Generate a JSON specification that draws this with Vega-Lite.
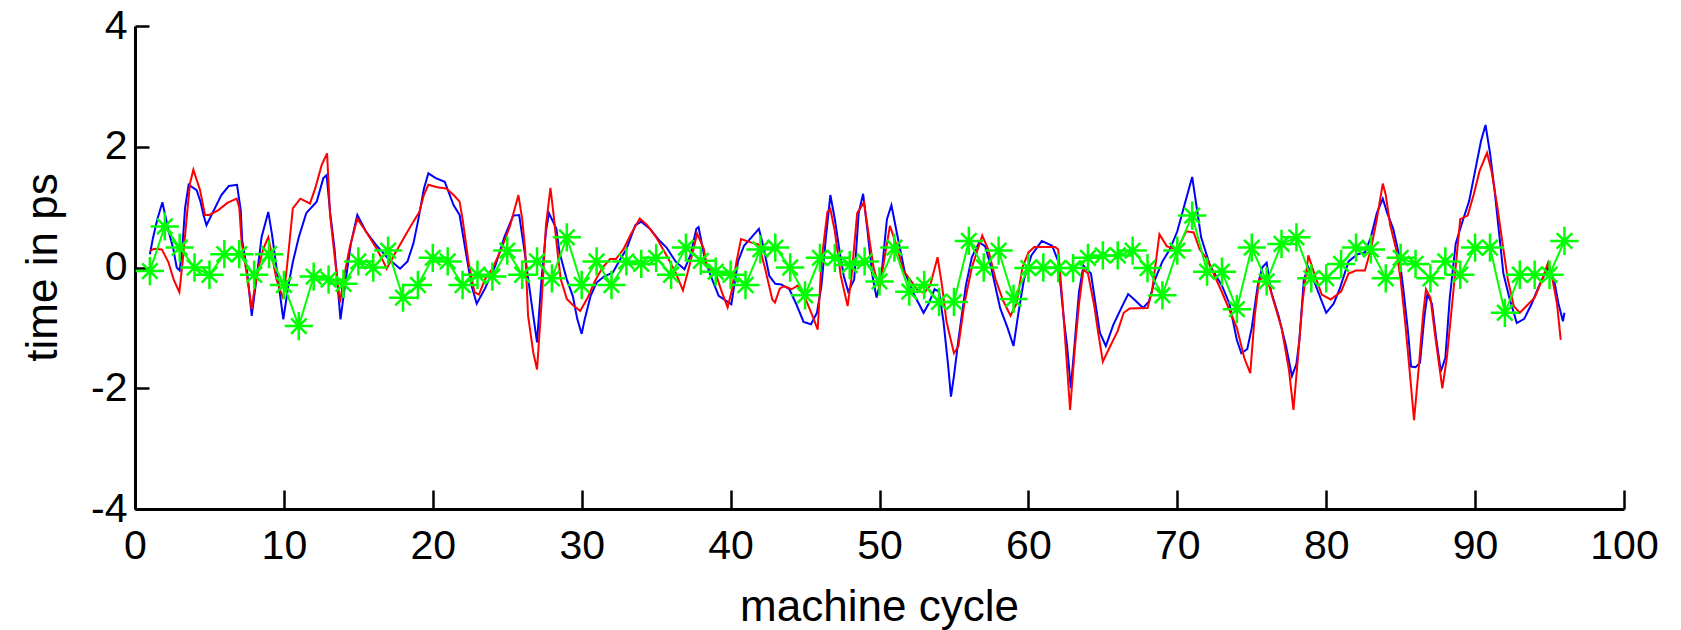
{
  "$schema": "https://vega.github.io/schema/vega-lite/v6.json",
  "autosize": {"type": "none"},
  "width": 1489,
  "height": 483,
  "padding": {"left": 135, "top": 26, "right": 57, "bottom": 121},
  "background": "white",
  "config": {"view": {"stroke": null}},
  "datasets": {
    "blue": [
      {"x":1.0,"y":0.22},{"x":1.2,"y":0.48},{"x":1.5,"y":0.8},{"x":1.84,"y":1.08},{"x":2.24,"y":0.62},{"x":2.57,"y":0.31},{"x":2.8,"y":0.0},{"x":3.0,"y":-0.05},{"x":3.2,"y":0.4},{"x":3.36,"y":0.98},{"x":3.6,"y":1.37},{"x":4.14,"y":1.28},{"x":4.4,"y":1.09},{"x":4.6,"y":0.87},{"x":4.8,"y":0.7},{"x":5.3,"y":0.95},{"x":5.8,"y":1.2},{"x":6.3,"y":1.35},{"x":6.85,"y":1.37},{"x":7.1,"y":0.95},{"x":7.2,"y":0.45},{"x":7.5,"y":0.0},{"x":7.84,"y":-0.8},{"x":8.1,"y":-0.3},{"x":8.5,"y":0.5},{"x":8.95,"y":0.92},{"x":9.2,"y":0.55},{"x":9.5,"y":0.0},{"x":9.96,"y":-0.86},{"x":10.3,"y":-0.3},{"x":10.6,"y":0.09},{"x":11.0,"y":0.5},{"x":11.5,"y":0.9},{"x":12.2,"y":1.09},{"x":12.65,"y":1.48},{"x":12.87,"y":1.53},{"x":13.1,"y":0.92},{"x":13.4,"y":0.31},{"x":13.8,"y":-0.86},{"x":14.1,"y":-0.3},{"x":14.5,"y":0.4},{"x":14.93,"y":0.87},{"x":15.5,"y":0.6},{"x":16.2,"y":0.37},{"x":17.0,"y":0.15},{"x":17.8,"y":-0.02},{"x":18.3,"y":0.1},{"x":18.7,"y":0.4},{"x":19.0,"y":0.76},{"x":19.4,"y":1.3},{"x":19.7,"y":1.56},{"x":20.2,"y":1.48},{"x":20.8,"y":1.42},{"x":21.4,"y":1.03},{"x":21.8,"y":0.87},{"x":22.2,"y":0.28},{"x":22.6,"y":-0.3},{"x":22.95,"y":-0.6},{"x":23.5,"y":-0.35},{"x":24.2,"y":0.03},{"x":24.8,"y":0.5},{"x":25.4,"y":0.86},{"x":25.8,"y":0.87},{"x":26.2,"y":0.2},{"x":26.5,"y":-0.36},{"x":26.75,"y":-0.8},{"x":27.0,"y":-1.24},{"x":27.3,"y":-0.2},{"x":27.6,"y":0.6},{"x":27.8,"y":0.9},{"x":28.3,"y":0.64},{"x":28.5,"y":0.26},{"x":29.0,"y":-0.2},{"x":29.4,"y":-0.47},{"x":29.7,"y":-0.85},{"x":30.0,"y":-1.1},{"x":30.2,"y":-0.86},{"x":30.6,"y":-0.47},{"x":31.0,"y":-0.25},{"x":31.5,"y":-0.15},{"x":32.1,"y":-0.08},{"x":32.6,"y":0.14},{"x":33.0,"y":0.3},{"x":33.6,"y":0.7},{"x":34.0,"y":0.76},{"x":34.6,"y":0.64},{"x":35.2,"y":0.45},{"x":35.7,"y":0.33},{"x":36.3,"y":0.1},{"x":36.9,"y":-0.03},{"x":37.3,"y":0.2},{"x":37.7,"y":0.64},{"x":37.85,"y":0.67},{"x":38.3,"y":0.1},{"x":38.8,"y":-0.22},{"x":39.2,"y":-0.47},{"x":40.05,"y":-0.61},{"x":40.5,"y":0.1},{"x":40.9,"y":0.36},{"x":41.4,"y":0.5},{"x":41.9,"y":0.64},{"x":42.2,"y":0.35},{"x":42.6,"y":-0.14},{"x":43.0,"y":-0.27},{"x":43.4,"y":-0.28},{"x":43.95,"y":-0.36},{"x":44.4,"y":-0.6},{"x":44.9,"y":-0.9},{"x":45.4,"y":-0.94},{"x":45.8,"y":-0.75},{"x":46.1,"y":-0.3},{"x":46.4,"y":0.5},{"x":46.7,"y":1.2},{"x":47.0,"y":0.8},{"x":47.3,"y":0.3},{"x":47.6,"y":-0.14},{"x":47.9,"y":-0.4},{"x":48.3,"y":-0.2},{"x":48.6,"y":0.9},{"x":48.9,"y":1.22},{"x":49.2,"y":0.6},{"x":49.5,"y":-0.1},{"x":49.8,"y":-0.5},{"x":50.1,"y":-0.2},{"x":50.5,"y":0.8},{"x":50.8,"y":1.03},{"x":51.2,"y":0.53},{"x":51.7,"y":-0.08},{"x":52.3,"y":-0.44},{"x":52.96,"y":-0.75},{"x":53.3,"y":-0.6},{"x":53.7,"y":-0.36},{"x":54.0,"y":-0.4},{"x":54.3,"y":-0.9},{"x":54.6,"y":-1.6},{"x":54.8,"y":-2.14},{"x":55.0,"y":-1.8},{"x":55.3,"y":-1.2},{"x":55.8,"y":-0.3},{"x":56.2,"y":0.17},{"x":56.7,"y":0.42},{"x":57.1,"y":0.35},{"x":57.5,"y":0.0},{"x":58.1,"y":-0.67},{"x":58.6,"y":-1.0},{"x":59.0,"y":-1.3},{"x":59.3,"y":-0.8},{"x":59.7,"y":-0.2},{"x":60.2,"y":0.2},{"x":60.9,"y":0.44},{"x":61.6,"y":0.36},{"x":62.0,"y":0.1},{"x":62.4,"y":-0.9},{"x":62.6,"y":-1.3},{"x":62.85,"y":-2.0},{"x":63.05,"y":-1.42},{"x":63.4,"y":-0.4},{"x":63.7,"y":0.03},{"x":64.2,"y":-0.1},{"x":64.8,"y":-1.08},{"x":65.2,"y":-1.3},{"x":65.7,"y":-0.95},{"x":66.3,"y":-0.64},{"x":66.7,"y":-0.44},{"x":67.2,"y":-0.55},{"x":67.7,"y":-0.67},{"x":68.1,"y":-0.56},{"x":68.5,"y":-0.2},{"x":69.0,"y":0.1},{"x":69.5,"y":0.3},{"x":70.0,"y":0.6},{"x":70.5,"y":1.05},{"x":71.0,"y":1.5},{"x":71.3,"y":1.0},{"x":71.6,"y":0.5},{"x":72.2,"y":0.03},{"x":73.0,"y":-0.3},{"x":73.5,"y":-0.6},{"x":74.0,"y":-1.2},{"x":74.3,"y":-1.42},{"x":74.7,"y":-1.35},{"x":75.0,"y":-1.0},{"x":75.4,"y":-0.3},{"x":75.7,"y":0.0},{"x":76.0,"y":0.08},{"x":76.3,"y":-0.4},{"x":76.8,"y":-0.8},{"x":77.3,"y":-1.3},{"x":77.7,"y":-1.8},{"x":78.0,"y":-1.6},{"x":78.2,"y":-1.2},{"x":78.5,"y":-0.2},{"x":78.8,"y":0.0},{"x":79.3,"y":-0.3},{"x":80.0,"y":-0.75},{"x":80.5,"y":-0.6},{"x":80.9,"y":-0.36},{"x":81.5,"y":0.1},{"x":82.1,"y":0.22},{"x":82.6,"y":0.25},{"x":83.0,"y":0.5},{"x":83.4,"y":0.9},{"x":83.8,"y":1.14},{"x":84.1,"y":0.9},{"x":84.5,"y":0.64},{"x":84.9,"y":0.2},{"x":85.2,"y":-0.4},{"x":85.5,"y":-1.08},{"x":85.7,"y":-1.64},{"x":86.0,"y":-1.65},{"x":86.3,"y":-1.58},{"x":86.6,"y":-0.8},{"x":86.8,"y":-0.44},{"x":87.1,"y":-0.6},{"x":87.4,"y":-1.2},{"x":87.7,"y":-1.72},{"x":88.0,"y":-1.5},{"x":88.3,"y":-0.5},{"x":88.7,"y":0.4},{"x":89.2,"y":0.8},{"x":89.6,"y":1.1},{"x":90.0,"y":1.6},{"x":90.4,"y":2.1},{"x":90.7,"y":2.36},{"x":91.0,"y":1.9},{"x":91.3,"y":1.3},{"x":91.6,"y":0.6},{"x":91.9,"y":-0.1},{"x":92.3,"y":-0.5},{"x":92.8,"y":-0.92},{"x":93.3,"y":-0.85},{"x":93.8,"y":-0.6},{"x":94.3,"y":-0.3},{"x":94.9,"y":0.0},{"x":95.3,"y":-0.2},{"x":95.6,"y":-0.6},{"x":95.9,"y":-0.89},{"x":96.0,"y":-0.75}
    ],
    "red": [
      {"x":1.0,"y":0.28},{"x":1.3,"y":0.31},{"x":1.8,"y":0.3},{"x":2.24,"y":0.09},{"x":2.6,"y":-0.2},{"x":2.98,"y":-0.41},{"x":3.2,"y":0.1},{"x":3.5,"y":0.9},{"x":3.7,"y":1.4},{"x":3.92,"y":1.62},{"x":4.37,"y":1.28},{"x":4.7,"y":0.87},{"x":5.0,"y":0.87},{"x":5.6,"y":0.95},{"x":6.2,"y":1.07},{"x":6.83,"y":1.14},{"x":7.0,"y":1.0},{"x":7.16,"y":0.42},{"x":7.5,"y":-0.1},{"x":7.84,"y":-0.69},{"x":8.0,"y":-0.4},{"x":8.3,"y":0.0},{"x":8.6,"y":0.3},{"x":8.95,"y":0.5},{"x":9.2,"y":0.2},{"x":9.5,"y":-0.2},{"x":9.96,"y":-0.52},{"x":10.2,"y":0.0},{"x":10.4,"y":0.48},{"x":10.6,"y":0.98},{"x":11.1,"y":1.14},{"x":11.75,"y":1.06},{"x":12.1,"y":1.31},{"x":12.54,"y":1.7},{"x":12.9,"y":1.89},{"x":13.1,"y":0.87},{"x":13.5,"y":-0.02},{"x":13.77,"y":-0.58},{"x":14.0,"y":-0.2},{"x":14.4,"y":0.31},{"x":14.93,"y":0.81},{"x":15.5,"y":0.6},{"x":16.23,"y":0.31},{"x":16.7,"y":0.09},{"x":16.9,"y":-0.02},{"x":17.5,"y":0.25},{"x":18.2,"y":0.55},{"x":18.7,"y":0.76},{"x":19.1,"y":0.92},{"x":19.4,"y":1.2},{"x":19.7,"y":1.37},{"x":20.3,"y":1.33},{"x":20.9,"y":1.31},{"x":21.4,"y":1.2},{"x":21.8,"y":1.09},{"x":22.0,"y":0.8},{"x":22.4,"y":0.09},{"x":22.8,"y":-0.41},{"x":23.1,"y":-0.45},{"x":23.5,"y":-0.2},{"x":24.0,"y":-0.02},{"x":24.6,"y":0.3},{"x":25.2,"y":0.7},{"x":25.75,"y":1.2},{"x":26.0,"y":0.81},{"x":26.2,"y":0.31},{"x":26.4,"y":-0.8},{"x":26.75,"y":-1.41},{"x":27.0,"y":-1.69},{"x":27.3,"y":-0.6},{"x":27.6,"y":0.7},{"x":27.9,"y":1.32},{"x":28.1,"y":0.9},{"x":28.4,"y":0.2},{"x":28.6,"y":-0.2},{"x":29.0,"y":-0.52},{"x":29.4,"y":-0.62},{"x":29.9,"y":-0.72},{"x":30.4,"y":-0.5},{"x":30.9,"y":-0.22},{"x":31.4,"y":0.0},{"x":31.9,"y":0.14},{"x":32.3,"y":0.14},{"x":32.8,"y":0.3},{"x":33.3,"y":0.55},{"x":33.9,"y":0.81},{"x":34.4,"y":0.7},{"x":35.0,"y":0.5},{"x":35.7,"y":0.2},{"x":36.3,"y":-0.08},{"x":36.8,"y":-0.38},{"x":37.3,"y":0.09},{"x":37.75,"y":0.56},{"x":38.2,"y":0.31},{"x":38.4,"y":0.03},{"x":39.0,"y":-0.1},{"x":39.4,"y":-0.4},{"x":39.8,"y":-0.66},{"x":40.05,"y":-0.42},{"x":40.4,"y":0.1},{"x":40.7,"y":0.47},{"x":41.3,"y":0.42},{"x":41.9,"y":0.38},{"x":42.3,"y":0.0},{"x":42.8,"y":-0.53},{"x":42.98,"y":-0.58},{"x":43.3,"y":-0.35},{"x":43.6,"y":-0.31},{"x":44.1,"y":-0.36},{"x":44.5,"y":-0.3},{"x":45.0,"y":-0.5},{"x":45.5,"y":-0.8},{"x":45.85,"y":-1.03},{"x":46.1,"y":0.1},{"x":46.5,"y":0.92},{"x":46.7,"y":0.97},{"x":47.0,"y":0.6},{"x":47.4,"y":-0.14},{"x":47.86,"y":-0.64},{"x":48.1,"y":-0.2},{"x":48.5,"y":0.9},{"x":48.96,"y":1.08},{"x":49.3,"y":0.5},{"x":49.6,"y":0.0},{"x":50.0,"y":-0.36},{"x":50.3,"y":0.1},{"x":50.7,"y":0.69},{"x":51.1,"y":0.4},{"x":51.6,"y":-0.05},{"x":52.2,"y":-0.25},{"x":52.6,"y":-0.39},{"x":53.0,"y":-0.42},{"x":53.4,"y":-0.3},{"x":53.9,"y":0.17},{"x":54.2,"y":-0.3},{"x":54.5,"y":-0.9},{"x":55.0,"y":-1.42},{"x":55.3,"y":-1.3},{"x":55.7,"y":-0.6},{"x":56.2,"y":0.0},{"x":56.9,"y":0.53},{"x":57.3,"y":0.3},{"x":57.8,"y":-0.2},{"x":58.3,"y":-0.55},{"x":58.8,"y":-0.8},{"x":59.2,"y":-0.6},{"x":59.6,"y":0.0},{"x":60.0,"y":0.25},{"x":60.4,"y":0.34},{"x":61.8,"y":0.34},{"x":62.0,"y":0.3},{"x":62.3,"y":-0.6},{"x":62.5,"y":-1.3},{"x":62.8,"y":-2.36},{"x":63.1,"y":-1.4},{"x":63.4,"y":-0.6},{"x":63.7,"y":-0.03},{"x":64.0,"y":-0.1},{"x":64.4,"y":-0.6},{"x":64.7,"y":-1.1},{"x":65.0,"y":-1.56},{"x":65.5,"y":-1.3},{"x":66.0,"y":-1.05},{"x":66.4,"y":-0.75},{"x":66.8,"y":-0.68},{"x":68.0,"y":-0.67},{"x":68.3,"y":-0.4},{"x":68.8,"y":0.55},{"x":69.3,"y":0.35},{"x":70.0,"y":0.3},{"x":70.6,"y":0.6},{"x":71.1,"y":0.58},{"x":71.5,"y":0.3},{"x":72.0,"y":0.14},{"x":73.0,"y":-0.41},{"x":74.0,"y":-1.0},{"x":74.5,"y":-1.5},{"x":74.9,"y":-1.75},{"x":75.2,"y":-0.8},{"x":75.5,"y":-0.2},{"x":76.0,"y":-0.15},{"x":76.4,"y":-0.5},{"x":77.0,"y":-1.0},{"x":77.5,"y":-1.7},{"x":77.8,"y":-2.36},{"x":78.1,"y":-1.5},{"x":78.4,"y":-0.6},{"x":78.8,"y":0.2},{"x":79.2,"y":-0.1},{"x":79.7,"y":-0.45},{"x":80.3,"y":-0.53},{"x":81.0,"y":-0.4},{"x":81.5,"y":-0.1},{"x":82.0,"y":-0.05},{"x":82.6,"y":-0.05},{"x":83.0,"y":0.3},{"x":83.4,"y":0.8},{"x":83.8,"y":1.39},{"x":84.0,"y":1.2},{"x":84.3,"y":0.7},{"x":84.7,"y":0.3},{"x":85.0,"y":-0.2},{"x":85.3,"y":-0.9},{"x":85.6,"y":-1.7},{"x":85.9,"y":-2.53},{"x":86.2,"y":-1.7},{"x":86.5,"y":-0.8},{"x":86.7,"y":-0.36},{"x":87.0,"y":-0.5},{"x":87.3,"y":-1.1},{"x":87.8,"y":-2.0},{"x":88.1,"y":-1.5},{"x":88.5,"y":-0.5},{"x":89.0,"y":0.8},{"x":89.5,"y":0.86},{"x":89.9,"y":1.2},{"x":90.3,"y":1.6},{"x":90.8,"y":1.9},{"x":91.1,"y":1.6},{"x":91.5,"y":1.0},{"x":91.9,"y":0.3},{"x":92.2,"y":-0.2},{"x":92.6,"y":-0.64},{"x":93.0,"y":-0.75},{"x":93.4,"y":-0.65},{"x":94.0,"y":-0.5},{"x":94.5,"y":-0.2},{"x":94.9,"y":0.08},{"x":95.2,"y":-0.2},{"x":95.5,"y":-0.6},{"x":95.75,"y":-1.2}
    ],
    "green": [
      {"x":1,"y":-0.06},{"x":2,"y":0.68},{"x":3,"y":0.33},{"x":4,"y":0.0},{"x":5,"y":-0.12},{"x":6,"y":0.22},{"x":7,"y":0.22},{"x":8,"y":-0.12},{"x":9,"y":0.22},{"x":10,"y":-0.29},{"x":11,"y":-0.97},{"x":12,"y":-0.15},{"x":13,"y":-0.2},{"x":14,"y":-0.27},{"x":15,"y":0.1},{"x":16,"y":0.0},{"x":17,"y":0.28},{"x":18,"y":-0.5},{"x":19,"y":-0.29},{"x":20,"y":0.16},{"x":21,"y":0.1},{"x":22,"y":-0.29},{"x":23,"y":-0.12},{"x":24,"y":-0.15},{"x":25,"y":0.28},{"x":26,"y":-0.12},{"x":27,"y":0.1},{"x":28,"y":-0.18},{"x":29,"y":0.5},{"x":30,"y":-0.29},{"x":31,"y":0.1},{"x":32,"y":-0.29},{"x":33,"y":0.1},{"x":34,"y":0.06},{"x":35,"y":0.16},{"x":36,"y":-0.12},{"x":37,"y":0.33},{"x":38,"y":0.11},{"x":39,"y":-0.07},{"x":40,"y":-0.12},{"x":41,"y":-0.29},{"x":42,"y":0.3},{"x":43,"y":0.33},{"x":44,"y":0.0},{"x":45,"y":-0.46},{"x":46,"y":0.16},{"x":47,"y":0.16},{"x":48,"y":0.04},{"x":49,"y":0.1},{"x":50,"y":-0.23},{"x":51,"y":0.33},{"x":52,"y":-0.4},{"x":53,"y":-0.29},{"x":54,"y":-0.57},{"x":55,"y":-0.57},{"x":56,"y":0.44},{"x":57,"y":0.0},{"x":58,"y":0.28},{"x":59,"y":-0.52},{"x":60,"y":-0.01},{"x":61,"y":0.0},{"x":62,"y":-0.01},{"x":63,"y":-0.01},{"x":64,"y":0.16},{"x":65,"y":0.2},{"x":66,"y":0.2},{"x":67,"y":0.28},{"x":68,"y":-0.01},{"x":69,"y":-0.46},{"x":70,"y":0.28},{"x":71,"y":0.86},{"x":72,"y":-0.07},{"x":73,"y":-0.07},{"x":74,"y":-0.69},{"x":75,"y":0.33},{"x":76,"y":-0.23},{"x":77,"y":0.39},{"x":78,"y":0.5},{"x":79,"y":-0.18},{"x":80,"y":-0.18},{"x":81,"y":0.06},{"x":82,"y":0.33},{"x":83,"y":0.3},{"x":84,"y":-0.18},{"x":85,"y":0.16},{"x":86,"y":0.06},{"x":87,"y":-0.18},{"x":88,"y":0.1},{"x":89,"y":-0.12},{"x":90,"y":0.33},{"x":91,"y":0.33},{"x":92,"y":-0.75},{"x":93,"y":-0.12},{"x":94,"y":-0.12},{"x":95,"y":-0.12},{"x":96,"y":0.44}
    ]
  },
  "encoding": {
    "x": {
      "field": "x", "type": "quantitative",
      "scale": {"domain": [0, 100], "nice": false, "zero": false},
      "axis": {
        "values": [0, 10, 20, 30, 40, 50, 60, 70, 80, 90, 100],
        "grid": false,
        "domainColor": "black", "domainWidth": 3,
        "tickColor": "black", "tickWidth": 2.5, "tickSize": -19,
        "labelFont": "Liberation Sans, Arial",
        "labelFontSize": 41, "labelColor": "black",
        "labelPadding": 36, "labelFlush": false, "labelOverlap": false,
        "labelBaseline": "top",
        "title": "machine cycle",
        "titleFont": "Liberation Sans, Arial", "titleFontSize": 44, "titleFontWeight": "normal", "titleColor": "black",
        "titleX": 744, "titleY": 111, "titleBaseline": "alphabetic", "titleAlign": "center", "titleAnchor": null
      }
    },
    "y": {
      "field": "y", "type": "quantitative",
      "scale": {"domain": [-4, 4], "nice": false, "zero": false},
      "axis": {
        "values": [-4, -2, 0, 2, 4],
        "grid": false,
        "domainColor": "black", "domainWidth": 3,
        "tickColor": "black", "tickWidth": 2.5, "tickSize": -14,
        "labelFont": "Liberation Sans, Arial",
        "labelFontSize": 41, "labelColor": "black",
        "labelExpr": "datum.value < 0 ? '-' + format(-datum.value, 'd') : format(datum.value, 'd')",
        "labelPadding": 22, "labelFlush": false, "labelOverlap": false,
        "labelAlign": "right", "labelBaseline": "middle",
        "title": "time in ps",
        "titleFont": "Liberation Sans, Arial", "titleFontSize": 44, "titleFontWeight": "normal", "titleColor": "black",
        "titleAngle": -90, "titleX": -79, "titleY": 241, "titleBaseline": "alphabetic", "titleAlign": "center", "titleAnchor": null
      }
    }
  },
  "layer": [
    {"data": {"name": "blue"}, "mark": {"type": "line", "color": "#0000ff", "strokeWidth": 2}},
    {"data": {"name": "red"}, "mark": {"type": "line", "color": "#ff0000", "strokeWidth": 2}},
    {"data": {"name": "green"}, "mark": {"type": "line", "color": "#00ff00", "strokeWidth": 2}},
    {"data": {"name": "green"}, "mark": {"type": "point", "shape": "M-1,0H1M0,-1V1M-0.55,-0.55L0.55,0.55M-0.55,0.55L0.55,-0.55", "filled": false, "stroke": "#00ff00", "strokeWidth": 2.5, "size": 800, "opacity": 1}}
  ]
}
